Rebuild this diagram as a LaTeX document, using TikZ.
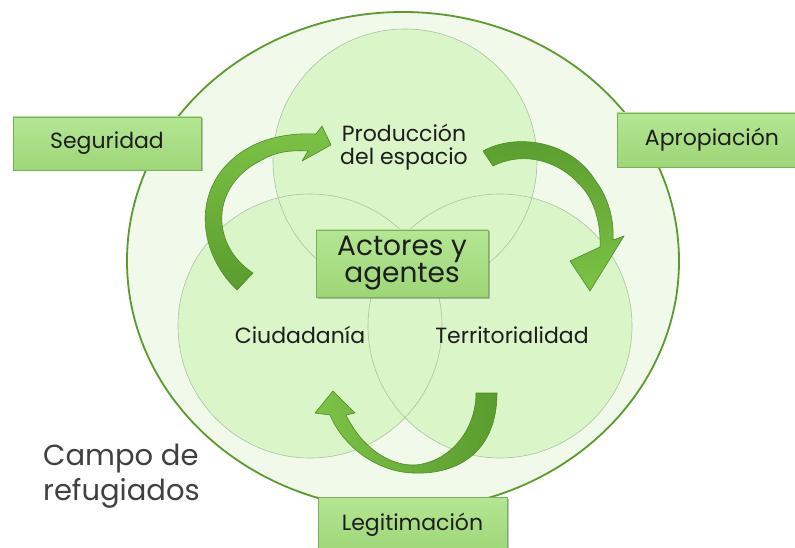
\documentclass[tikz,border=0pt]{standalone}
\usepackage{fontspec}
\setmainfont{Poppins}
\usetikzlibrary{shadows}

\definecolor{ringline}{HTML}{5B9A2C}
\definecolor{ringfill}{HTML}{F0F9EA}
\definecolor{petalfill}{HTML}{DAF5C8}
\definecolor{petalline}{HTML}{A9C49F}
\definecolor{boxtop}{HTML}{B4E693}
\definecolor{boxbot}{HTML}{9DD677}
\definecolor{boxline}{HTML}{7DAE5C}
\definecolor{arrowlight}{HTML}{7DC346}
\definecolor{arrowdark}{HTML}{5A9C2E}
\definecolor{arrowline}{HTML}{4E8A27}
\definecolor{ink}{HTML}{1E1E1E}

\tikzset{
	petal/.style={draw=petalline, line width=0.6bp},
	labelbox/.style={draw=boxline, line width=0.6bp, top color=boxtop, bottom color=boxbot,
		drop shadow={shadow xshift=1.5bp, shadow yshift=-1.5bp, opacity=0.35, fill=black!70},
		text=ink, inner sep=0pt, font=\fontsize{22bp}{23bp}\selectfont},
	petallabel/.style={text=ink, inner sep=0pt, align=center, anchor=base, font=\fontsize{22bp}{23bp}\selectfont},
	bentarrow/.style={draw=arrowline, line width=0.6bp, line join=round}
}

\begin{document}
\begin{tikzpicture}[x=1bp, y=-1bp]
	%%%%% START %%%%%
	\clip (0, 0) rectangle (795, 548);
	\fill[white] (0, 0) rectangle (795, 548);
	
	% camp
	\draw[fill=ringfill, draw=ringline, line width=1.8bp] (403, 261) ellipse [x radius=276, y radius=249];
	
	% three circles
	\fill[petalfill] (405, 161) circle (132);
	\fill[petalfill] (310, 326) circle (132);
	\fill[petalfill] (500, 326) circle (132);
	\draw[petal] (405, 161) circle (132);
	\draw[petal] (310, 326) circle (132);
	\draw[petal] (500, 326) circle (132);
	
	% arrow from Ciudadania up to Produccion
	\draw[bentarrow, top color=arrowlight, bottom color=arrowdark]
		(237, 290) .. controls (195, 250) and (190, 180) .. (250, 147)
		.. controls (270, 136) and (295, 133) .. (316, 134)
		-- (322, 126) -- (331, 145) -- (302, 161) -- (308, 151)
		.. controls (290, 150) and (275, 152) .. (262, 160)
		.. controls (210, 185) and (210, 245) .. (253, 273) -- cycle;
	
	% arrow from Produccion down to Territorialidad
	\draw[bentarrow, top color=arrowdark, bottom color=arrowlight]
		(483, 151) .. controls (515, 133) and (570, 140) .. (595, 180)
		.. controls (610, 200) and (614, 222) .. (613, 240)
		-- (624, 236) -- (590, 291) -- (570, 261) -- (600, 247)
		.. controls (601, 225) and (595, 200) .. (580, 185)
		.. controls (560, 162) and (525, 150) .. (493, 166) -- cycle;
	
	% arrow from Territorialidad round to Ciudadania
	\draw[bentarrow, left color=arrowlight, right color=arrowdark]
		(497, 393) .. controls (497, 450) and (460, 475) .. (413, 473)
		.. controls (380, 472) and (345, 450) .. (330, 415)
		-- (315, 413) -- (333, 391) -- (355, 413) -- (346, 415)
		.. controls (362, 448) and (390, 466) .. (415, 465)
		.. controls (450, 462) and (476, 430) .. (476, 393) -- cycle;
	
	% circle labels
	\node[petallabel] (prod) at (404, 165) {Producción\\del espacio};
	\node[petallabel] (ciud) at (300, 343) {Ciudadanía};
	\node[petallabel] (terr) at (512, 343) {Territorialidad};
	
	% boxes
	\node[labelbox, minimum width=188bp, minimum height=53bp] (seg) at (107, 143.5) {Seguridad};
	\node[labelbox, minimum width=190bp, minimum height=54bp] (apro) at (712, 140) {Apropiación};
	\node[labelbox, minimum width=189bp, minimum height=56bp] (legi) at (412.5, 525) {Legitimación};
	\node[labelbox, minimum width=172bp, minimum height=67bp, align=center,
		font=\fontsize{28bp}{27bp}\selectfont] (act) at (402, 263.5) {Actores y\\agentes};
	
	\node[text=ink!85, inner sep=0pt, align=left, anchor=base west,
		font=\fontsize{29bp}{35bp}\selectfont] (camp) at (43, 500) {Campo de\\refugiados};
	%%%%% END %%%%%
\end{tikzpicture}
\end{document}
